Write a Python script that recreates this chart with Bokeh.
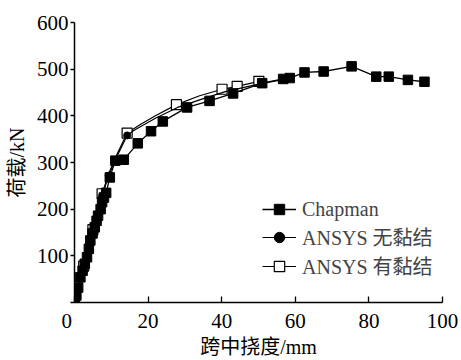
from bokeh.plotting import figure
from bokeh.models import Range1d, FixedTicker, Legend, LegendItem
from bokeh.embed import file_html
from bokeh.resources import INLINE

# Chapman test data
chap_x = [0, 0.5, 1.0, 1.6, 2.2, 2.8, 3.4, 3.9, 4.3, 4.9, 5.5, 6.0, 6.4, 7.1, 7.5, 8.0, 8.6, 9.6,
          11.1, 13.4, 17.2, 20.8, 24.0, 30.6, 36.7, 43.1, 51.0, 56.7, 58.5, 62.5, 67.7, 75.3,
          82.0, 85.4, 90.6, 95.1]
chap_y = [0, 15, 32, 54, 68, 83, 97, 115, 133, 148, 161, 175, 186, 200, 215, 225, 235, 268,
          304, 306, 341, 367, 388, 418, 432, 448, 470, 479, 481, 493, 495, 506,
          484, 484, 477, 473]

# ANSYS unbonded (curve and marker points)
unb_x = [0, 2.5, 5.0, 7.5, 9.3, 11.1, 14.3, 16.0, 18.0, 22.0, 28.0, 35.0, 41.0, 50.0, 57.0]
unb_y = [0, 76, 152, 228, 272, 306, 358, 368, 377, 395, 418, 437, 452, 468, 478]
unb_mx = [0, 2.5, 5.0, 7.5, 9.3, 14.3, 57.0]
unb_my = [0, 76, 152, 228, 272, 358, 478]

# ANSYS bonded (curve and marker points)
bnd_x = [0, 2.5, 5.0, 7.5, 9.3, 11.1, 14.3, 16.0, 18.0, 22.0, 27.7, 34.0, 40.1, 44.2, 50.1]
bnd_y = [0, 78, 156, 233, 276, 310, 363, 372, 382, 400, 424, 443, 457, 463, 474]
bnd_mx = [0, 2.5, 5.0, 7.5, 14.3, 27.7, 40.1, 44.2, 50.1]
bnd_my = [0, 78, 156, 233, 363, 424, 457, 463, 474]

x_ticks = [0, 20, 40, 60, 80, 100]
y_ticks = [0, 100, 200, 300, 400, 500, 600]

FONT = "'Liberation Serif', 'Noto Sans CJK SC', serif"

p = figure(width=461, height=360, output_backend="svg", toolbar_location=None,
           x_range=Range1d(0, 100), y_range=Range1d(0, 600),
           min_border_left=74, min_border_right=19, min_border_top=22, min_border_bottom=58)
p.outline_line_color = None
p.grid.grid_line_color = None

l3 = p.line(bnd_x, bnd_y, line_color="black", line_width=1.2)
s3 = p.scatter(bnd_mx, bnd_my, marker="square", size=10, fill_color="white", line_color="black",
               line_width=1.2)
l2 = p.line(unb_x, unb_y, line_color="black", line_width=1.2)
s2 = p.scatter(unb_mx, unb_my, marker="circle", size=7, fill_color="black", line_color="black")
l1 = p.line(chap_x, chap_y, line_color="black", line_width=1.3)
s1 = p.scatter(chap_x, chap_y, marker="square", size=9.5, fill_color="black", line_color="black")

legend = Legend(items=[
    LegendItem(label="Chapman", renderers=[l1, s1]),
    LegendItem(label="ANSYS 无黏结", renderers=[l2, s2]),
    LegendItem(label="ANSYS 有黏结", renderers=[l3, s3]),
], location=(188, 22))
legend.background_fill_alpha = 0
legend.border_line_color = None
legend.label_text_font = FONT
legend.label_text_font_size = "20px"
legend.label_standoff = 6
legend.glyph_width = 34
legend.spacing = 0
legend.label_height = 26
legend.glyph_height = 26
legend.padding = 0
legend.margin = 0
p.add_layout(legend)

p.xaxis.ticker = FixedTicker(ticks=x_ticks)
p.yaxis.ticker = FixedTicker(ticks=y_ticks)
p.yaxis.major_label_overrides = {0: ""}
p.xaxis.major_label_overrides = {0: "0\u00a0\u00a0\u00a0"}

for ax in (p.xaxis, p.yaxis):
    ax.axis_line_color = "black"
    ax.axis_line_width = 1.5
    ax.major_tick_line_color = "black"
    ax.major_tick_line_width = 1.3
    ax.minor_tick_line_color = None
    ax.major_label_text_font = FONT
    ax.major_label_text_font_size = "21px"
    ax.major_label_text_color = "black"
    ax.axis_label_text_font = FONT
    ax.axis_label_text_font_size = "20px"
    ax.axis_label_text_font_style = "normal"
    ax.axis_label_text_color = "black"

p.xaxis.major_tick_in = 6
p.xaxis.major_tick_out = 0
p.xaxis.major_label_standoff = 6
p.yaxis.major_tick_in = 0
p.yaxis.major_tick_out = 4
p.yaxis.major_label_standoff = 2

p.xaxis.axis_label = "跨中挠度/mm"
p.yaxis.axis_label = "荷载/kN"
p.xaxis.axis_label_standoff = 0
p.yaxis.axis_label_standoff = 6

open("out.html", "w").write(file_html(p, INLINE))
